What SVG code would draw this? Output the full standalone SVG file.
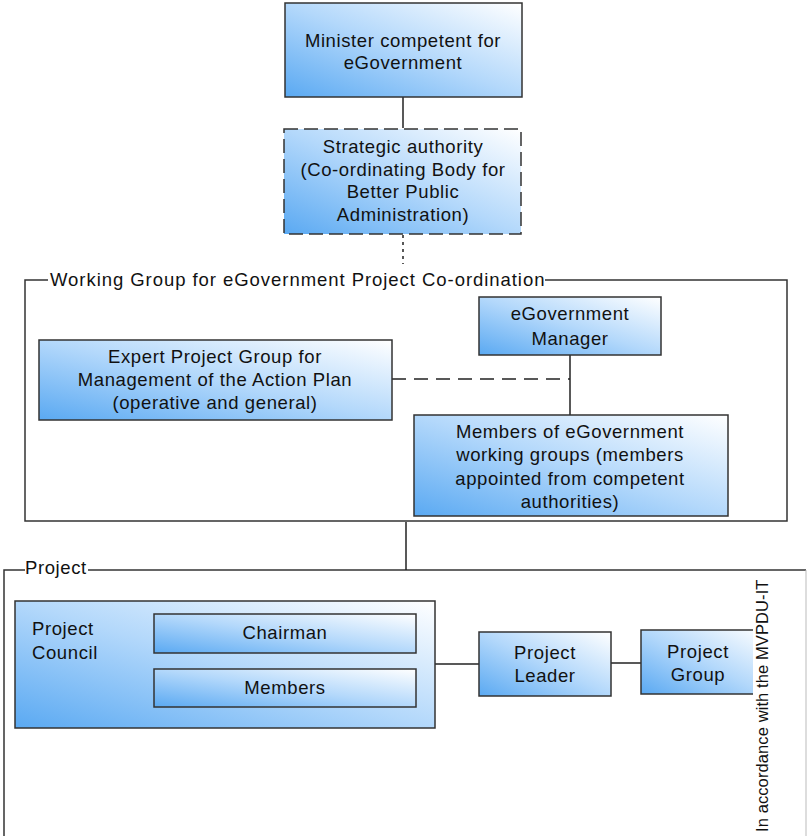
<svg xmlns="http://www.w3.org/2000/svg" width="807" height="836" viewBox="0 0 807 836">
<defs>
<linearGradient id="g" x1="0" y1="1" x2="1" y2="0">
<stop offset="0" stop-color="#5aa9f2"/>
<stop offset="0.5" stop-color="#b3d8fb"/>
<stop offset="1" stop-color="#ffffff"/>
</linearGradient>
<style>
.n{fill:url(#g);stroke:#333;stroke-width:1.5}
.f{fill:none;stroke:#333;stroke-width:1.5}
.c{fill:none;stroke:#222;stroke-width:1.5}
text{font-family:"Liberation Sans",Arial,sans-serif;font-size:18.5px;fill:#111;letter-spacing:0.6px}
.m{text-anchor:middle}
</style>
</defs>
<g id="frames">
<path class="f" d="M48,280 H25 V521 H787 V280 H545"/>
<text x="50" y="286" style="letter-spacing:0.95px">Working Group for eGovernment Project Co-ordination</text>
<path class="f" d="M25,570 H4 V836"/>
<path class="f" d="M88,570 H806"/>
<path d="M806,570 V836" fill="none" stroke="#bbb" stroke-width="1"/>
<text x="25" y="574">Project</text>
</g>
<g id="connectors">
<path class="c" d="M403,97 V128"/>
<path class="c" d="M403,235 V264" stroke-dasharray="3,4"/>
<path class="c" d="M570,355 V415"/>
<path class="c" d="M392,379 H570" stroke-dasharray="14,8"/>
<path class="c" d="M406,522 V570"/>
<path class="c" d="M435,664 H479"/>
<path class="c" d="M611,663 H641"/>
</g>
<g id="minister">
<rect class="n" x="285" y="3" width="237" height="94"/>
<text class="m" x="403" y="47">Minister competent for</text>
<text class="m" x="403" y="69">eGovernment</text>
</g>
<g id="strategic">
<rect class="n" x="284" y="129" width="237" height="105" stroke-dasharray="14,6"/>
<text class="m" x="403" y="153">Strategic authority</text>
<text class="m" x="403" y="176">(Co-ordinating Body for</text>
<text class="m" x="403" y="198">Better Public</text>
<text class="m" x="403" y="221">Administration)</text>
</g>
<g id="manager">
<rect class="n" x="479" y="297" width="182" height="58"/>
<text class="m" x="570" y="320">eGovernment</text>
<text class="m" x="570" y="345">Manager</text>
</g>
<g id="expert">
<rect class="n" x="39" y="340" width="353" height="80"/>
<text class="m" x="215" y="363">Expert Project Group for</text>
<text class="m" x="215" y="386">Management of the Action Plan</text>
<text class="m" x="215" y="409">(operative and general)</text>
</g>
<g id="members-wg">
<rect class="n" x="414" y="415" width="314" height="101"/>
<text class="m" x="570" y="438">Members of eGovernment</text>
<text class="m" x="570" y="461">working groups (members</text>
<text class="m" x="570" y="485">appointed from competent</text>
<text class="m" x="570" y="508">authorities)</text>
</g>
<g id="council">
<rect class="n" x="15" y="601" width="420" height="127"/>
<text x="32" y="635">Project</text>
<text x="32" y="659">Council</text>
</g>
<g id="chairman">
<rect class="n" x="154" y="614" width="262" height="39"/>
<text class="m" x="285" y="639">Chairman</text>
</g>
<g id="members">
<rect class="n" x="154" y="669" width="262" height="38"/>
<text class="m" x="285" y="694">Members</text>
</g>
<g id="leader">
<rect class="n" x="479" y="632" width="132" height="64"/>
<text class="m" x="545" y="659">Project</text>
<text class="m" x="545" y="682">Leader</text>
</g>
<g id="group">
<rect class="n" x="641" y="630" width="125" height="64"/>
<text class="m" x="698" y="658">Project</text>
<text class="m" x="698" y="681">Group</text>
</g>
<g id="note">
<rect x="753" y="575" width="20" height="261" fill="#fff"/>
<text transform="translate(768,832) rotate(-90)" style="font-size:16.5px;letter-spacing:0.1px">In accordance with the MVPDU-IT</text>
</g>
</svg>
